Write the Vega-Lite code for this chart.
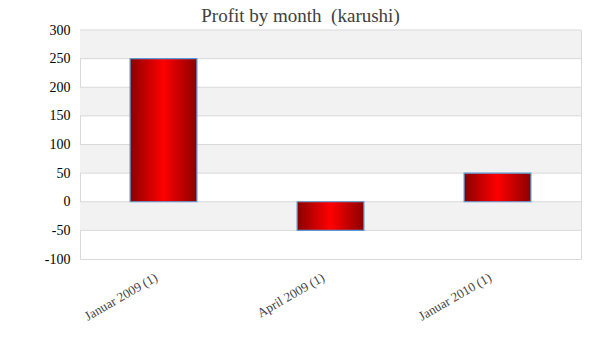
{
  "$schema": "https://vega.github.io/schema/vega-lite/v6.json",
  "autosize": "none",
  "width": 501,
  "height": 229,
  "padding": {"left": 80, "top": 30, "right": 19, "bottom": 101},
  "background": "white",
  "title": {"text": "Profit by month\u00a0 (karushi)", "font": "Liberation Serif", "fontSize": 19, "fontWeight": "normal", "color": "#404040", "anchor": "middle", "dx": -30, "offset": -3},
  "config": {"view": {"stroke": "#d9d9d9", "strokeWidth": 1}},
  "datasets": {
    "bands": [
      {"lo": 250, "hi": 300},
      {"lo": 150, "hi": 200},
      {"lo": 50, "hi": 100},
      {"lo": -50, "hi": 0}
    ],
    "grid": [
      {"v": 300}, {"v": 250}, {"v": 200}, {"v": 150}, {"v": 100}, {"v": 50}, {"v": 0}, {"v": -50}
    ],
    "profit": [
      {"month": "Januar 2009 (1)", "profit": 250},
      {"month": "April 2009 (1)", "profit": -50},
      {"month": "Januar 2010 (1)", "profit": 50}
    ]
  },
  "layer": [
    {
      "data": {"name": "bands"},
      "mark": {"type": "rect", "color": "#f2f2f2"},
      "encoding": {
        "y": {"field": "lo", "type": "quantitative", "scale": {"domain": [-100, 300], "nice": false},
          "axis": {"title": null, "values": [-100, -50, 0, 50, 100, 150, 200, 250, 300], "labelExpr": "'' + datum.value", "grid": false, "domain": false, "ticks": false, "labelOverlap": false, "labelFont": "Liberation Serif", "labelFontSize": 14, "labelColor": "#000000", "labelPadding": 10}
        },
        "y2": {"field": "hi"}
      }
    },
    {
      "data": {"name": "grid"},
      "mark": {"type": "rule", "color": "#d9d9d9", "strokeWidth": 1},
      "encoding": {
        "y": {"field": "v", "type": "quantitative",
          "axis": {"title": null, "values": [-100, -50, 0, 50, 100, 150, 200, 250, 300], "labelExpr": "'' + datum.value", "grid": false, "domain": false, "ticks": false, "labelOverlap": false, "labelFont": "Liberation Serif", "labelFontSize": 14, "labelColor": "#000000", "labelPadding": 10}
        }
      }
    },
    {
      "data": {"name": "profit"},
      "mark": {
        "type": "bar",
        "stroke": "#5b9bd5",
        "strokeWidth": 1.2,
        "color": {"gradient": "linear", "x1": 0, "x2": 1, "y1": 0, "y2": 0, "stops": [
          {"offset": 0, "color": "#8b0000"},
          {"offset": 0.5, "color": "#ff0000"},
          {"offset": 1, "color": "#8b0000"}
        ]}
      },
      "encoding": {
        "x": {"field": "month", "type": "nominal", "sort": null,
          "scale": {"paddingInner": 0.6, "paddingOuter": 0.3},
          "axis": {"title": null, "labelAngle": -30, "labelFont": "Liberation Serif", "labelFontSize": 13, "labelColor": "#404040", "domain": false, "ticks": false, "labelPadding": 12, "labelOffset": -10}
        },
        "y": {"field": "profit", "type": "quantitative",
          "scale": {"domain": [-100, 300], "nice": false},
          "axis": {"title": null, "values": [-100, -50, 0, 50, 100, 150, 200, 250, 300], "labelExpr": "'' + datum.value", "grid": false, "domain": false, "ticks": false, "labelOverlap": false, "labelFont": "Liberation Serif", "labelFontSize": 14, "labelColor": "#000000", "labelPadding": 10}
        }
      }
    }
  ]
}
